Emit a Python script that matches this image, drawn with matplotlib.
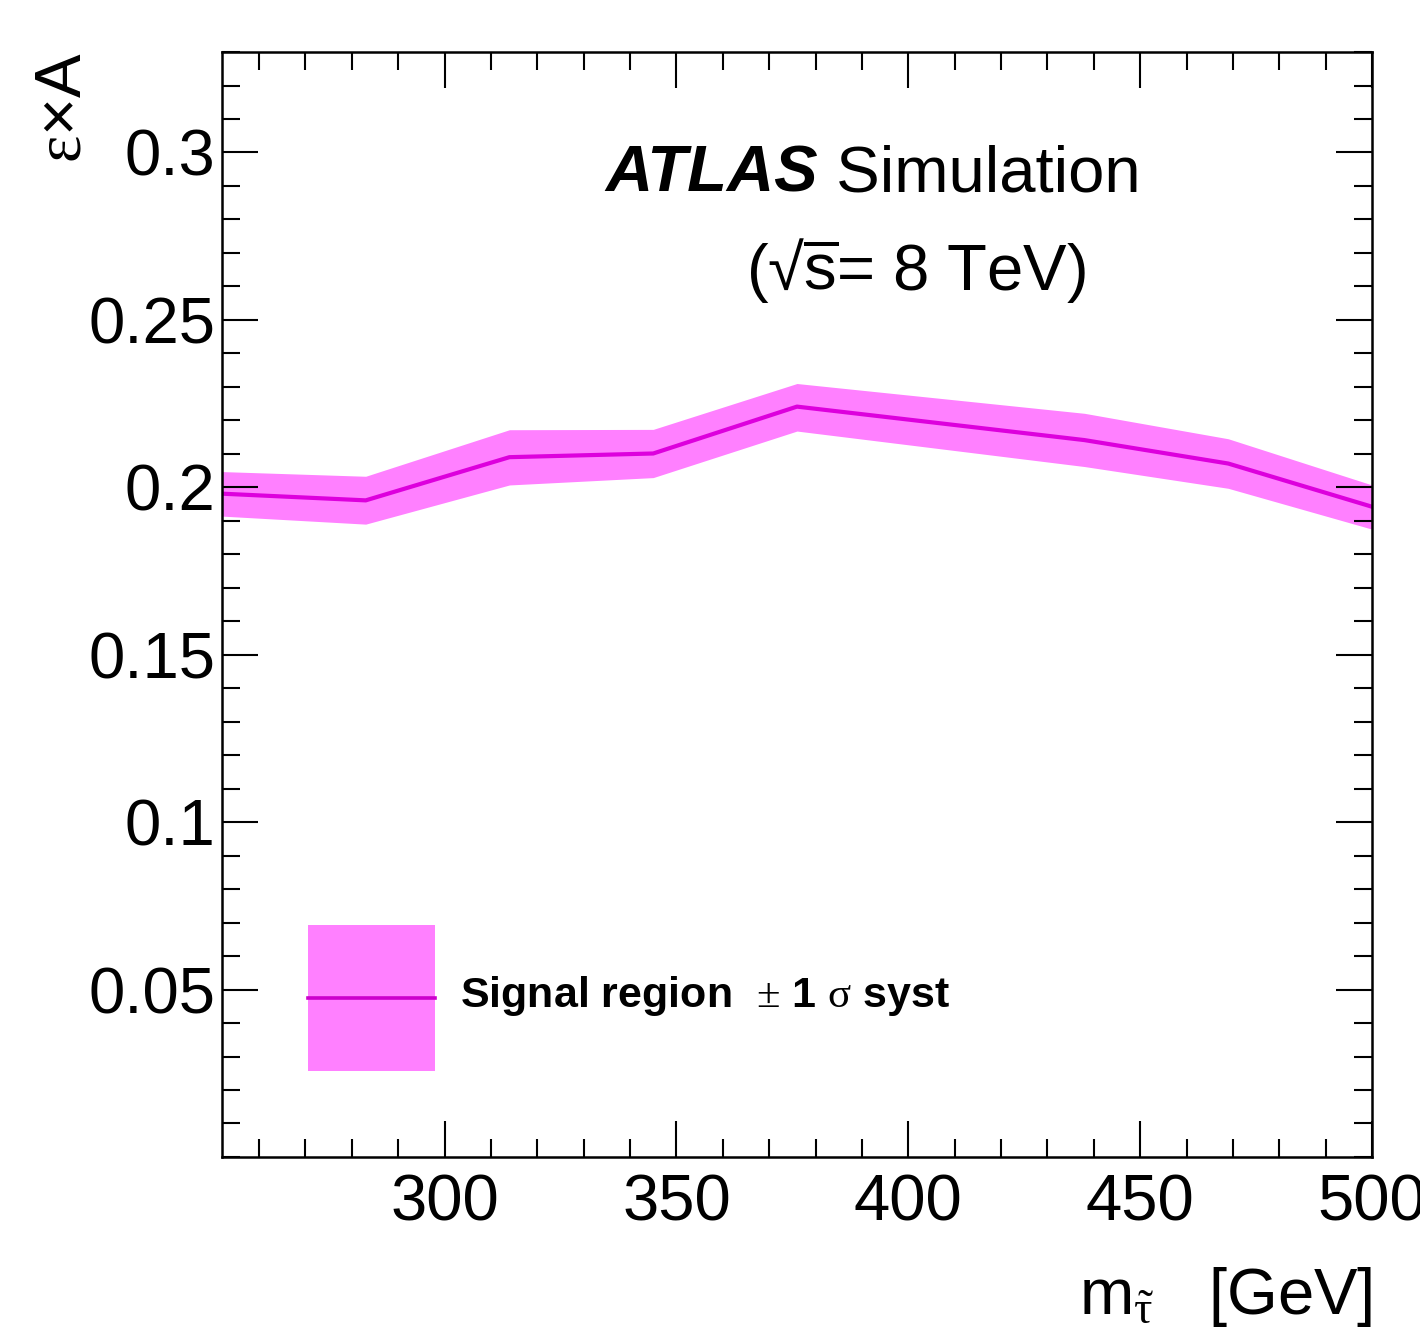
import numpy as np
import matplotlib
matplotlib.use('Agg')
import matplotlib.pyplot as plt
from matplotlib.patches import Rectangle
from matplotlib.lines import Line2D
from matplotlib.legend_handler import HandlerBase
from matplotlib.ticker import MultipleLocator, FixedLocator, FuncFormatter

plt.rcParams['font.family'] = ['Liberation Sans', 'DejaVu Sans']
plt.rcParams['mathtext.fontset'] = 'custom'
plt.rcParams['mathtext.rm'] = 'Liberation Serif'
plt.rcParams['mathtext.it'] = 'Liberation Serif:italic'
plt.rcParams['mathtext.sf'] = 'Liberation Sans'
plt.rcParams['mathtext.bf'] = 'Liberation Sans:bold'

# stau mass points [GeV] and efficiency x acceptance with +-1 sigma syst band
mass = [252, 283, 314, 345, 376, 438, 469, 500]
eff = [0.1981, 0.1961, 0.2090, 0.2101, 0.2241, 0.2141, 0.2071, 0.1942]
eff_up = [0.2047, 0.2033, 0.2172, 0.2173, 0.2310, 0.2221, 0.2145, 0.2007]
eff_down = [0.1914, 0.1890, 0.2007, 0.2029, 0.2168, 0.2062, 0.1997, 0.1875]

xticks = [300, 350, 400, 450, 500]
yticks = [0.05, 0.1, 0.15, 0.2, 0.25, 0.3]

band_col = '#ff80ff'
line_col = '#dd00dd'


class BandHandler(HandlerBase):
    # filled box with the central line through its middle
    def create_artists(self, legend, orig_handle, xdescent, ydescent,
                       width, height, fontsize, trans):
        x0 = -xdescent
        yc = -ydescent + height / 2.0 - 0.12 * fontsize
        h = 3.4 * fontsize
        r = Rectangle((x0, yc - h / 2), width, h, facecolor=band_col,
                      edgecolor='none', transform=trans)
        ln = Line2D([x0, x0 + width], [yc, yc], color='#cc00cc', lw=2.6,
                    transform=trans)
        return [r, ln]


fig = plt.figure(figsize=(14.2, 13.34), dpi=100)
ax = fig.add_axes([0.1563, 0.1327, 0.8099, 0.8283])

band = ax.fill_between(mass, eff_down, eff_up, color=band_col, lw=0)
ax.plot(mass, eff, color=line_col, lw=3)

ax.set_xlim(252, 500)
ax.set_ylim(0, 0.33)

ax.xaxis.set_major_locator(FixedLocator(xticks))
ax.xaxis.set_minor_locator(MultipleLocator(10))
ax.yaxis.set_major_locator(FixedLocator(yticks))
ax.yaxis.set_minor_locator(MultipleLocator(0.01))
ax.yaxis.set_major_formatter(FuncFormatter(lambda v, p: '%g' % v))

ax.tick_params(which='both', direction='in', top=True, right=True, width=1.5,
               labelsize=47)
ax.tick_params(which='major', length=26)
ax.tick_params(which='minor', length=13)
ax.tick_params(axis='y', pad=5)
ax.tick_params(axis='x', pad=12)
for s in ax.spines.values():
    s.set_linewidth(1.8)

ax.set_ylabel(r'$\mathrm{\varepsilon}$×A', fontsize=47, loc='top')
ax.yaxis.set_label_coords(-0.112, 1.0)
ax.set_xlabel(r'm$_{\tilde{\mathrm{\tau}}}$   [GeV]', fontsize=47, loc='right')
ax.xaxis.set_label_coords(1.0, -0.098)

t1 = ax.text(0.333, 0.874, 'ATLAS', transform=ax.transAxes, fontsize=47,
             fontweight='bold', fontstyle='italic')
ax.annotate(' Simulation', xy=(1, 0), xycoords=t1, va='bottom', fontsize=47)
ax.text(0.4557, 0.785, r'(√$\overline{\mathsf{s}}$= 8 TeV)',
        transform=ax.transAxes, fontsize=47)

ax.legend([band], [r'Signal region  $\pm$ 1 $\mathrm{\sigma}$ syst'],
          handler_map={band: BandHandler()},
          loc='center left', bbox_to_anchor=(0.0748, 0.1457), frameon=False,
          borderpad=0, borderaxespad=0, handlelength=2.95, handleheight=1.0,
          handletextpad=0.58, prop={'weight': 'bold', 'size': 31})

fig.savefig('out.png', dpi=100)
